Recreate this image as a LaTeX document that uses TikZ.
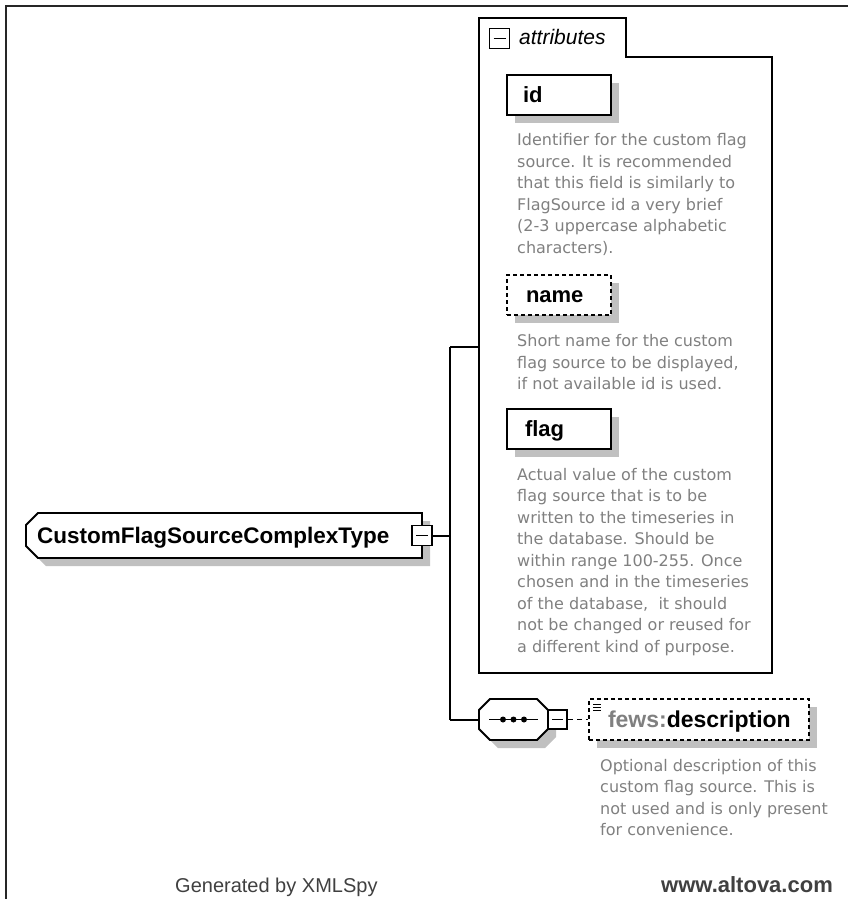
\documentclass[tikz,border=0pt]{standalone}
\usepackage{fontspec}
\setmainfont{Liberation Sans}
\newfontfamily\descfont{DejaVu Sans}
\usetikzlibrary{shadows}
\definecolor{shd}{HTML}{C0C0C0}
\definecolor{dtxt}{HTML}{808080}
\definecolor{foot}{HTML}{404040}
\begin{document}
\begin{tikzpicture}[x=1pt,y=-1pt,
  conn/.style={line width=2pt, draw=black},
  ebox/.style={draw=black, line width=1.8pt, fill=white, minimum width=104pt, minimum height=40pt,
    inner xsep=0pt, inner ysep=0pt, text width=104pt, align=left, text height=15.7pt, text depth=0pt,
    font=\fontsize{22}{26}\selectfont\bfseries,
    general shadow={fill=shd, shadow xshift=8pt, shadow yshift=-8pt}},
  optbox/.style={ebox, dash pattern=on 4pt off 3pt},
  mbox/.style={draw=black, line width=1.5pt, fill=white, minimum size=19pt, inner sep=0pt,
    path picture={\draw[line width=1.5pt] ([xshift=4pt]path picture bounding box.west) -- ([xshift=-4pt]path picture bounding box.east);}},
  desc/.style={font=\descfont\fontsize{16}{21.5}\selectfont, text=dtxt, anchor=base west, inner sep=0pt},
  mainshape/.style={insert path={(38,513) -- (422,513) -- (422,558) -- (38,558) -- (26,546) -- (26,525) -- cycle}},
  seqshape/.style={insert path={(490,699) -- (537,699) -- (548,710) -- (548,729) -- (537,740) -- (490,740) -- (479,729) -- (479,710) -- cycle}}
]
\useasboundingbox (0,0) rectangle (848,899);

% frame
\draw[line width=2pt, black!85] (6,899) -- (6,6) -- (848,6);

% attributes container
\draw[line width=2pt] (479,673) -- (479,18) -- (626,18) -- (626,57) -- (772,57) -- (772,673) -- cycle;
\node[mbox, minimum size=20pt] (attrm) at (499.5,38.5) {};
\node[anchor=base west, inner sep=0pt, font=\fontsize{21}{25}\selectfont\itshape] (attrlbl) at (519,45) {attributes};
\coordinate (attrL) at (479,347);

% attribute boxes
\node[ebox] (id) at (559,95) {\hspace*{16pt}id};
\node[optbox] (name) at (559,295) {\hspace*{19pt}name};
\node[ebox] (flag) at (559,429) {\hspace*{18pt}flag};

\foreach \t [count=\i from 0] in {Identifier for the custom flag, source. It is recommended, that this field is similarly to, FlagSource id a very brief, {(2-3 uppercase alphabetic}, characters).}
  \node[desc] (dA\i) at (517,{145.5+21.5*\i}) {\t};
\foreach \t [count=\i from 0] in {Short name for the custom, {flag source to be displayed,}, if not available id is used.}
  \node[desc] (dB\i) at (517,{346.5+21.5*\i}) {\t};
\foreach \t [count=\i from 0] in {Actual value of the custom, flag source that is to be, written to the timeseries in, the database. Should be, within range 100-255. Once, chosen and in the timeseries, {of the database,\ \ it should}, not be changed or reused for, a different kind of purpose.}
  \node[desc] (dC\i) at (517,{480+21.5*\i}) {\t};

% main complex type node
\begin{scope}[shift={(8,8)}]
  \fill[shd, mainshape];
\end{scope}
\draw[line width=1.8pt, fill=white, mainshape];
\node[anchor=base west, inner sep=0pt, font=\fontsize{22.5}{27}\selectfont\bfseries] (main) at (37,543) {CustomFlagSourceComplexType};
\node[mbox, minimum size=20pt] (mainm) at (422,535.5) {};

% sequence compositor
\begin{scope}[shift={(8,8)}]
  \fill[shd, seqshape];
\end{scope}
\draw[line width=1.8pt, fill=white, seqshape];
\node[inner sep=0pt, minimum width=69pt, minimum height=41pt] (seq) at (513.5,719.5) {};
\draw[line width=1.5pt] (489,719.5) -- (538,719.5);
\foreach \dx in {503,513.5,524} \fill (\dx,719.5) circle (3);
\node[mbox] (seqm) at (557.5,719.5) {};

% description element
\node[optbox, minimum width=220pt, minimum height=41pt, text width=220pt, font=\fontsize{23}{27}\selectfont\bfseries] (desc) at (699,719.5) {\hspace*{19pt}\textcolor{dtxt}{fews:}description};
\foreach \yy in {704,707,710} \draw[line width=1pt] (593,\yy) -- (601,\yy);
\foreach \t [count=\i from 0] in {Optional description of this, custom flag source. This is, not used and is only present, for convenience.}
  \node[desc] (dD\i) at (600,{771+21.5*\i}) {\t};

% connectors
\coordinate (ja) at (450,347);
\coordinate (jb) at (450,719.5);
\draw[conn] (mainm.east) -- (mainm.east -| ja);
\draw[conn] (ja) -- (jb);
\draw[conn] (ja) -- (attrL);
\draw[conn] (jb) -- (seq.west);
\draw[line width=1.5pt, dash pattern=on 5pt off 4pt] (seqm.east) -- (desc.west);

% footer
\node[anchor=base west, inner sep=0pt, text=foot, font=\fontsize{20}{24}\selectfont] (gen) at (175,892) {Generated by XMLSpy};
\node[anchor=base east, inner sep=0pt, text=foot, font=\fontsize{22}{26}\selectfont\bfseries] (alt) at (833,892) {www.altova.com};
\end{tikzpicture}
\end{document}
